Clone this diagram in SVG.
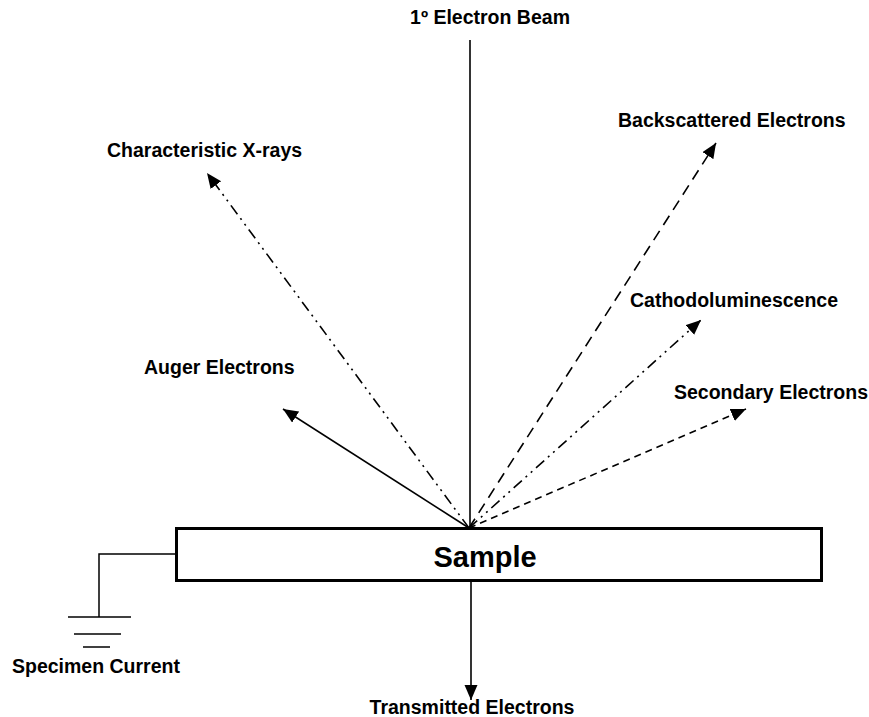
<svg xmlns="http://www.w3.org/2000/svg" width="869" height="717" viewBox="0 0 869 717">
  <style>
    .lbl { font-family: "Liberation Sans", Arial, sans-serif; font-weight: bold; font-size: 19.5px; fill: #000; }
    .ray { stroke: #000; stroke-width: 1.6; fill: none; }
    .dashdotdot { stroke-dasharray: 11 5 2 5 2 5; }
    .dashed { stroke-dasharray: 11 7; }
    .shortdash { stroke-dasharray: 7 5; }
    .wire { stroke: #000; stroke-width: 1.5; fill: none; }
  </style>
  <defs>
    <marker id="head" markerUnits="userSpaceOnUse" markerWidth="16" markerHeight="14" refX="15" refY="6.5" orient="auto">
      <path d="M0,0 L15,6.5 L0,13 z" fill="#000"/>
    </marker>
  </defs>

  <rect width="869" height="717" fill="#fff"/>

  <g id="connectors">
    <!-- primary beam down to the impact point -->
    <line class="ray" x1="470" y1="40" x2="470" y2="528"/>
    <!-- emitted signals -->
    <line id="xrays" class="ray dashdotdot" x1="469" y1="528" x2="207" y2="173" marker-end="url(#head)"/>
    <line id="bse" class="ray dashed" x1="469" y1="528" x2="716" y2="143" marker-end="url(#head)"/>
    <line id="cl" class="ray dashdotdot" x1="469" y1="528" x2="701" y2="320" marker-end="url(#head)"/>
    <line id="se" class="ray shortdash" x1="469" y1="528" x2="746" y2="409" marker-end="url(#head)"/>
    <line id="auger" class="ray" x1="469" y1="528" x2="283" y2="409" marker-end="url(#head)"/>
    <line id="transmitted" class="ray" x1="471" y1="582" x2="471" y2="700" marker-end="url(#head)"/>
    <!-- specimen current lead and ground -->
    <polyline class="wire" points="176,554 99,554 99,617"/>
    <line class="wire" x1="68" y1="617" x2="131" y2="617"/>
    <line class="wire" x1="74" y1="634" x2="121" y2="634"/>
    <line class="wire" x1="83" y1="647" x2="110" y2="647"/>
  </g>

  <g id="sample">
    <rect x="176.5" y="528.5" width="645" height="52" fill="#fff" stroke="#000" stroke-width="3"/>
    <text x="485" y="567" text-anchor="middle" class="lbl" style="font-size:29px">Sample</text>
  </g>

  <g id="beam-label"><text x="490" y="24" text-anchor="middle" class="lbl">1º Electron Beam</text></g>
  <g id="xrays-label"><text x="107" y="157" class="lbl">Characteristic X-rays</text></g>
  <g id="bse-label"><text x="618" y="127" class="lbl">Backscattered Electrons</text></g>
  <g id="cl-label"><text x="630" y="307" class="lbl">Cathodoluminescence</text></g>
  <g id="auger-label"><text x="144" y="374" class="lbl">Auger Electrons</text></g>
  <g id="se-label"><text x="674" y="399" class="lbl">Secondary Electrons</text></g>
  <g id="current-label"><text x="12" y="673" class="lbl">Specimen Current</text></g>
  <g id="transmitted-label"><text x="472" y="714" text-anchor="middle" class="lbl">Transmitted Electrons</text></g>
</svg>
